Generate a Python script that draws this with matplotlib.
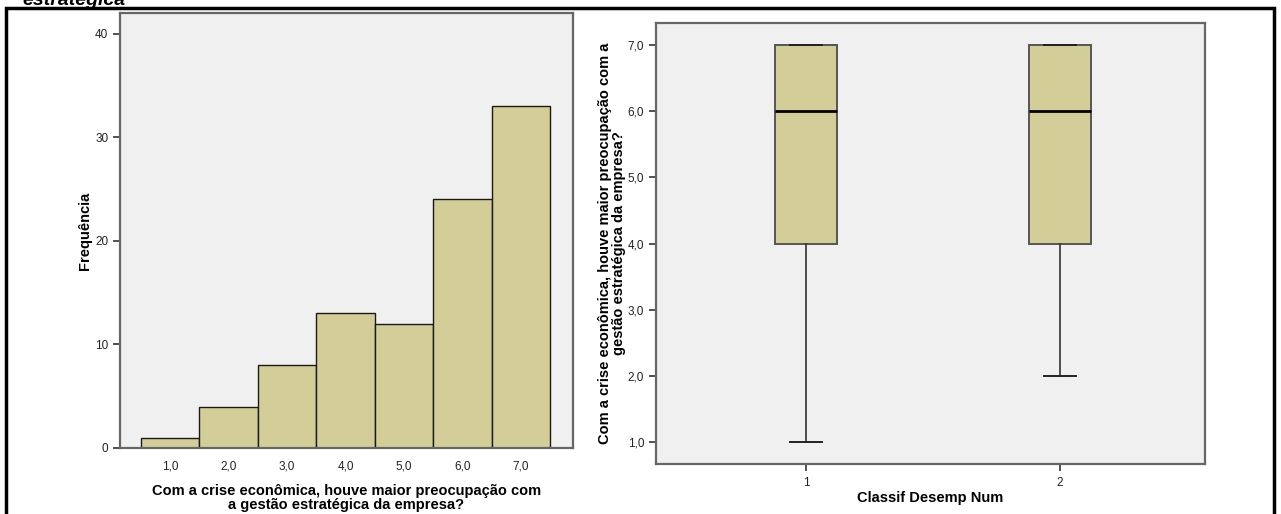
import matplotlib
matplotlib.use("Agg")
import matplotlib.pyplot as plt
from matplotlib.patches import Rectangle

plt.rcParams['font.family'] = ['Liberation Sans', 'DejaVu Sans']

# Histogram data
scores = [1.0, 2.0, 3.0, 4.0, 5.0, 6.0, 7.0]
frequencies = [1, 4, 8, 13, 12, 24, 33]
score_labels = ["1,0", "2,0", "3,0", "4,0", "5,0", "6,0", "7,0"]
freq_ticks = [0, 10, 20, 30, 40]

# Boxplot summary per group
groups = ["1", "2"]
group_pos = [1, 2]
medians = [6.0, 6.0]
q1s = [4.0, 4.0]
q3s = [7.0, 7.0]
whisker_lo = [1.0, 2.0]
whisker_hi = [7.0, 7.0]
box_ticks = [1.0, 2.0, 3.0, 4.0, 5.0, 6.0, 7.0]
box_tick_labels = ["1,0", "2,0", "3,0", "4,0", "5,0", "6,0", "7,0"]

question = "Com a crise econômica, houve maior preocupação com"
question2 = "a gestão estratégica da empresa?"

fill = "#D3CE97"
bg = "#F0F0F0"
spine_col = "#666666"
tick_col = "#333333"

fig = plt.figure(figsize=(12.81, 5.14), dpi=100)

# Outer frame
fig.patches.append(Rectangle((6 / 1281, -0.05), (1274 - 6) / 1281, 1.05 - 8 / 514,
                             transform=fig.transFigure, fill=False,
                             edgecolor="black", linewidth=2.5, zorder=0))
fig.text(22 / 1281, 1 - 5 / 514, "estratégica", fontsize=14, fontweight="bold",
         fontstyle="italic", ha="left", va="baseline")


def style_axes(ax):
    ax.set_facecolor(bg)
    for s in ax.spines.values():
        s.set_color(spine_col)
        s.set_linewidth(1.6)
    ax.tick_params(axis="both", colors=tick_col, labelsize=8.5, length=5,
                   width=1.2, labelcolor="#222222")


# Histogram panel
ax1 = fig.add_axes([120 / 1281, 1 - 448 / 514, (573 - 120) / 1281, (448 - 13) / 514])
style_axes(ax1)
ax1.bar(scores, frequencies, width=1.0, color=fill, edgecolor="#1a1a1a",
        linewidth=1.0, zorder=2)
ax1.set_xlim(0.14, 7.89)
ax1.set_ylim(0, 42)
ax1.set_xticks(scores)
ax1.set_xticklabels(score_labels)
ax1.set_yticks(freq_ticks)
ax1.tick_params(axis="x", length=0, pad=9)
ax1.set_ylabel("Frequência", fontsize=10.5, fontweight="bold", labelpad=2)
ax1.set_xlabel(question + "\n" + question2, fontsize=10.5, fontweight="bold",
               labelpad=8, linespacing=1.0)

# Boxplot panel
ax2 = fig.add_axes([656 / 1281, 1 - 464 / 514, (1205 - 656) / 1281, (464 - 23) / 514])
style_axes(ax2)
stats = []
for i in range(len(groups)):
    stats.append(dict(med=medians[i], q1=q1s[i], q3=q3s[i],
                      whislo=whisker_lo[i], whishi=whisker_hi[i], fliers=[]))
ax2.bxp(stats, positions=group_pos, widths=0.245, capwidths=0.126,
        patch_artist=True, showfliers=False,
        boxprops=dict(facecolor=fill, edgecolor="#555555", linewidth=1.4),
        medianprops=dict(color="black", linewidth=2.0),
        whiskerprops=dict(color="#333333", linewidth=1.2),
        capprops=dict(color="#222222", linewidth=1.4))
ax2.set_xlim(0.41, 2.57)
ax2.set_ylim(0.67, 7.33)
ax2.set_yticks(box_ticks)
ax2.set_yticklabels(box_tick_labels)
ax2.set_xticks(group_pos)
ax2.set_xticklabels(groups)
ax2.tick_params(axis="x", pad=4)
ax2.set_xlabel("Classif Desemp Num", fontsize=10.5, fontweight="bold", labelpad=2)
ax2.set_ylabel("Com a crise econômica, houve maior preocupação com a\ngestão estratégica da empresa?",
               fontsize=10.5, fontweight="bold", labelpad=1, linespacing=1.0)

fig.savefig("out.png", dpi=100)
